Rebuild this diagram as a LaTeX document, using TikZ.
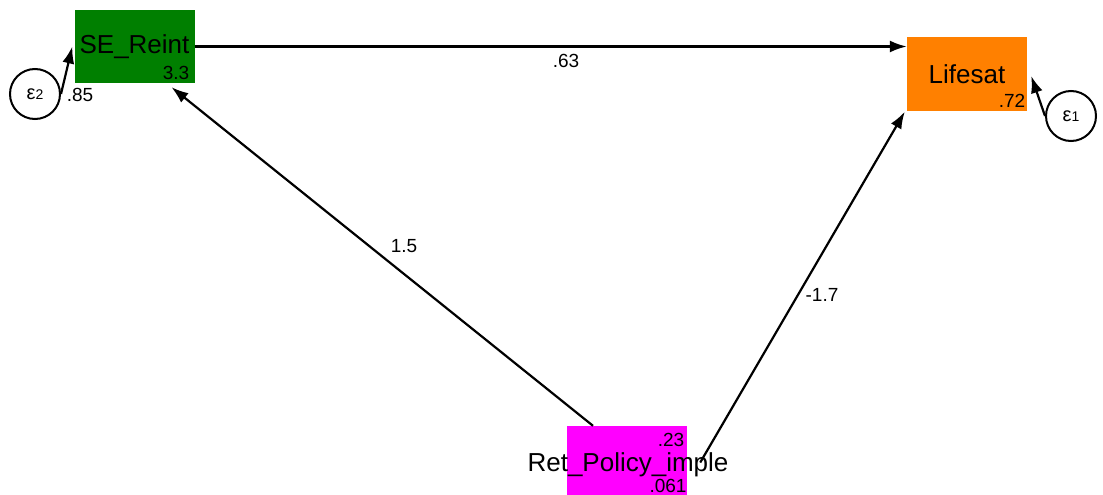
\documentclass[tikz,border=0pt]{standalone}
\usepackage{fontspec}
\setmainfont{Liberation Sans}
\usetikzlibrary{arrows.meta}
\definecolor{exog}{HTML}{FF00FF}
\definecolor{mediator}{HTML}{007F00}
\definecolor{outcome}{HTML}{FF8000}
\tikzset{
  var/.style={minimum width=120pt, minimum height=73pt, inner sep=0pt,
    font=\fontsize{26}{28}\selectfont},
  err/.style={draw, circle, line width=2pt, minimum size=50pt, inner sep=0pt,
    font=\fontsize{20}{22}\selectfont},
  est/.style={font=\fontsize{19}{21}\selectfont, inner sep=0pt},
  reg/.style={-{Latex[length=17pt,width=12pt]}, line width=2.2pt},
}
\newcommand{\eps}[1]{ε{\fontsize{14}{14}\selectfont #1}}

\begin{document}
\begin{tikzpicture}[x=1pt, y=-1pt]
  \clip (0,0) rectangle (1103,495);
  \fill[white] (0,0) rectangle (1103,495);
  % observed variables
  \node[var, fill=mediator] (se) at (134.5,46.5) {SE\_Reint};
  \node[var, fill=outcome] (life) at (967,74) {Lifesat};
  \node[var, fill=exog] (ret) at (627,462.5) {};
  \node[var, minimum width=0pt] (retname) at (628,465) {Ret\_Policy\_imple};
  % error terms
  \node[err] (e2) at (35,94) {\eps{2}};
  \node[err] (e1) at (1071,116) {\eps{1}};
  % paths
  \draw[reg] (se.east) -- (se.east -| life.west);
  \draw[reg] ([xshift=-34pt]ret.north) -- ([xshift=37pt,yshift=-4pt]se.south);
  \draw[reg] ([xshift=13pt]ret.east) -- ([xshift=-2pt,yshift=-1pt]life.south west);
  \draw[reg] (e2.east) -- ([xshift=-2pt]se.west);
  \draw[reg] (e1.west) -- ([xshift=4pt,yshift=-2pt]life.east);
  % estimates
  \node[est] (b1) at (566,61) {.63};
  \node[est] (b2) at (404,246) {1.5};
  \node[est] (b3) at (822,295) {-1.7};
  \node[est] (v2) at (80,95) {.85};
  \node[est] (c2) at (176,73) {3.3};
  \node[est] (c1) at (1012,101) {.72};
  \node[est] (m3) at (671,440) {.23};
  \node[est] (v3) at (668,486) {.061};
\end{tikzpicture}
\end{document}
